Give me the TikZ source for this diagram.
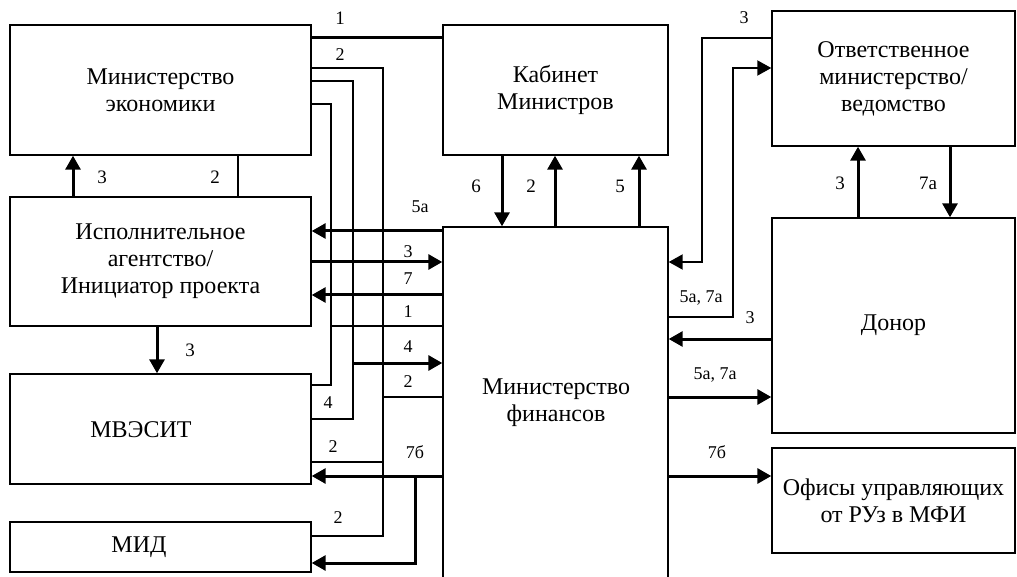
\documentclass[tikz,border=0pt]{standalone}
\usepackage{fontspec}
\setmainfont{Liberation Serif}
\usetikzlibrary{arrows.meta}
\newcommand\rsBoxFont{\fontsize{24}{27}\selectfont}
\newcommand\rsLabFont{\fontsize{18}{20}\selectfont}
\newcommand\rsLabBFont{\fontsize{19}{21}\selectfont}
\begin{document}
\begin{tikzpicture}[x=1pt,y=-1pt,
  box/.style={draw, line width=1.4pt, inner sep=0pt, align=center, font=\rsBoxFont},
  txt/.style={inner sep=0pt, align=center, font=\rsBoxFont},
  cn/.style={line width=1.3pt},
  thk/.style={line width=3pt},
  med/.style={line width=2pt},
  arr/.style={-{Triangle[length=14pt,width=15pt]}},
  lab/.style={font=\rsLabFont, inner sep=0pt},
  labb/.style={font=\rsLabBFont, inner sep=0pt}]
\clip (0,0) rectangle (1017,577);
\fill[white] (0,0) rectangle (1017,577);

% boxes
\node[box, minimum width=301pt, minimum height=130pt] (me) at (160.5,90) {Министерство\\экономики};
\node[box, minimum width=225pt, minimum height=130pt] (km) at (555.5,90) {Кабинет\\Министров};
\node[box, minimum width=243pt, minimum height=135pt] (om) at (893.5,78.5) {Ответственное\\министерство/\\ведомство};
\node[box, minimum width=301pt, minimum height=129pt] (ia) at (160.5,261.5) {Исполнительное\\агентство/\\Инициатор проекта};
\node[box, minimum width=301pt, minimum height=110pt] (mv) at (160.5,429) {};
\node[txt] (mvt) at (141,430) {МВЭСИТ};
\node[box, minimum width=301pt, minimum height=50pt] (mid) at (160.5,547) {};
\node[txt] (midt) at (139,547) {МИД};
\node[box, minimum width=225pt, minimum height=373pt] (mf) at (555.5,413.5) {};
\node[txt] (mft) at (556,403) {Министерство\\финансов};
\node[box, minimum width=243pt, minimum height=215pt] (don) at (893.5,325.5) {Донор};
\node[box, minimum width=243pt, minimum height=105pt] (of) at (893.5,500.5) {Офисы управляющих\\от РУз в МФИ};

% bus coordinates
\coordinate (b383) at (383,68);
\coordinate (b353) at (353,81);
\coordinate (b331) at (331,104);
\coordinate (b702) at (702,38);
\coordinate (b733) at (733,317);

% left bundle
\draw[thk] (me.east |- 0,38) -- (km.west |- 0,38);
\draw[cn] (me.east |- b383) -- (b383) -- (383,536) -- (mid.east |- 0,536);
\draw[cn] (383,397) -- (mf.west |- 0,397);
\draw[cn] (383,462) -- (mv.east |- 0,462);
\draw[cn] (me.east |- b353) -- (b353) -- (353,419) -- (mv.east |- 0,419);
\draw[thk,arr] (353,363) -- (mf.west |- 0,363);
\draw[cn] (me.east |- b331) -- (b331) -- (331,385) -- (mv.east |- 0,385);
\draw[cn] (331,326) -- (mf.west |- 0,326);
\draw[thk,arr] (mf.west |- 0,231) -- (ia.east |- 0,231);
\draw[thk,arr] (ia.east |- 0,262) -- (mf.west |- 0,262);
\draw[thk,arr] (mf.west |- 0,295) -- (ia.east |- 0,295);
\draw[thk,arr] (mf.west |- 0,476) -- (mv.east |- 0,476);
\draw[thk,arr] (415,476) -- (415,563) -- (mid.east |- 0,563);

% verticals left
\draw[thk,arr] (ia.north -| 73,0) -- (me.south -| 73,0);
\draw[cn] (ia.north -| 238,0) -- (me.south -| 238,0);
\draw[thk,arr] (ia.south -| 157,0) -- (mv.north -| 157,0);

% cabinet - minfin
\draw[thk,arr] (km.south -| 502,0) -- (mf.north -| 502,0);
\draw[thk,arr] (mf.north -| 555,0) -- (km.south -| 555,0);
\draw[thk,arr] (mf.north -| 639,0) -- (km.south -| 639,0);

% right side
\draw[med,arr] (om.west |- b702) -- (b702) -- (702,262) -- (mf.east |- 0,262);
\draw[med,arr] (mf.east |- b733) -- (b733) -- (733,68) -- (om.west |- 0,68);
\draw[thk,arr] (don.west |- 0,339) -- (mf.east |- 0,339);
\draw[thk,arr] (mf.east |- 0,397) -- (don.west |- 0,397);
\draw[thk,arr] (mf.east |- 0,476) -- (of.west |- 0,476);
\draw[thk,arr] (don.north -| 858,0) -- (om.south -| 858,0);
\draw[thk,arr] (om.south -| 950,0) -- (don.north -| 950,0);

% labels
\node[labb] (t1) at (340,18) {1};
\node[lab] (t2) at (340,55) {2};
\node[lab] (t3) at (420,207) {5а};
\node[lab] (t4) at (408,252) {3};
\node[lab] (t5) at (408,279) {7};
\node[lab] (t6) at (408,312) {1};
\node[lab] (t7) at (408,347) {4};
\node[lab] (t8) at (408,382) {2};
\node[lab] (t9) at (328,403) {4};
\node[lab] (t10) at (333,447) {2};
\node[lab] (t11) at (415,452) {7б};
\node[lab] (t12) at (338,518) {2};
\node[labb] (t13) at (102,177) {3};
\node[labb] (t14) at (215,177) {2};
\node[labb] (t15) at (190,350) {3};
\node[labb] (t16) at (476,186) {6};
\node[labb] (t17) at (531,186) {2};
\node[labb] (t18) at (620,186) {5};
\node[lab] (t19) at (744,18) {3};
\node[lab] (t20) at (701,298) {5а, 7а};
\node[lab] (t21) at (750,318) {3};
\node[lab] (t22) at (715,375) {5а, 7а};
\node[lab] (t23) at (717,452) {7б};
\node[labb] (t24) at (840,183) {3};
\node[labb] (t25) at (928,183) {7а};
\end{tikzpicture}
\end{document}
